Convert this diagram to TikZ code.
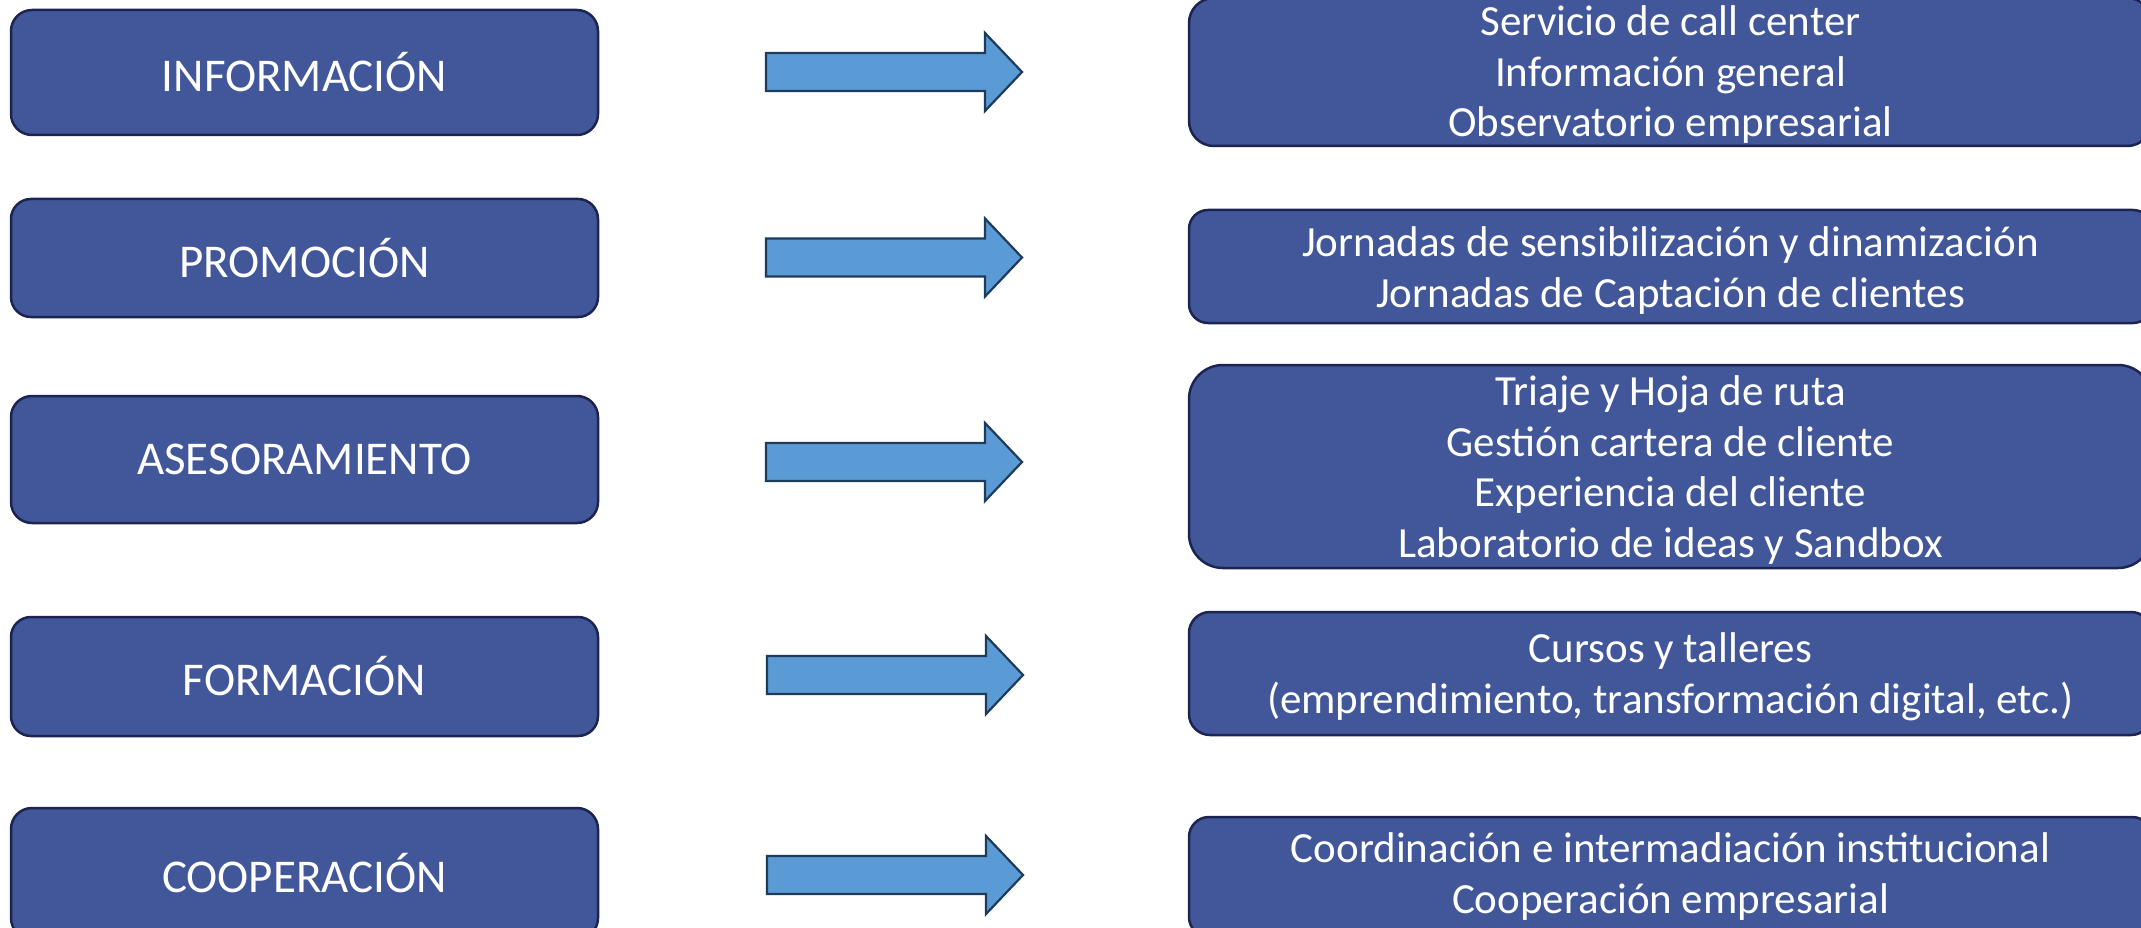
\documentclass[tikz,border=0pt]{standalone}
\usepackage{fontspec}
\setmainfont{Carlito}
\definecolor{boxfill}{HTML}{42569A}
\definecolor{boxline}{HTML}{1C2552}
\definecolor{arrfill}{HTML}{5B9BD5}
\definecolor{arrline}{HTML}{1E3B5C}
\tikzset{
  lbox/.style={draw=boxline, fill=boxfill, line width=2.5pt, inner sep=0pt,
    minimum width=587pt, text=white, align=center,
    font=\fontsize{47}{56}\selectfont},
  rbox/.style={draw=boxline, fill=boxfill, line width=2.5pt, inner sep=0pt,
    minimum width=963pt},
  rtext/.style={inner sep=0pt, text=white, align=center, anchor=base,
    font=\fontsize{43}{50.5}\selectfont},
  blockarrow/.style={draw=arrline, fill=arrfill, line width=2.2pt, line join=miter}
}
\newcommand{\blkarrow}[1]{%
  \draw[blockarrow] (#1) ++(0,-19) -- ++(219,0) -- ++(0,-20) -- ++(37,39)
    -- ++(-37,39) -- ++(0,-20) -- ++(-219,0) -- cycle;}
\begin{document}
\begin{tikzpicture}[x=1pt,y=-1pt]
\useasboundingbox (0,0) rectangle (2141,928);
\clip (0,0) rectangle (2141,928);
\fill[white] (0,0) rectangle (2141,928);
% left boxes
\node[lbox, minimum height=125pt, rounded corners=21pt] (infoL) at (304.5,72.5) {INFORMACIÓN};
\node[lbox, minimum height=118pt, rounded corners=20pt] (promoL) at (304.5,258) {PROMOCIÓN};
\node[lbox, minimum height=127pt, rounded corners=21pt] (asesL) at (304.5,459.5) {ASESORAMIENTO};
\node[lbox, minimum height=119pt, rounded corners=20pt] (formL) at (304.5,676.5) {FORMACIÓN};
\node[lbox, minimum height=131pt, rounded corners=21pt] (coopL) at (304.5,873.5) {COOPERACIÓN};
% right boxes
\node[rbox, minimum height=148pt, rounded corners=25pt] (infoR) at (1670.5,72) {};
\node[rbox, minimum height=113pt, rounded corners=19pt] (promoR) at (1670.5,266.5) {};
\node[rbox, minimum height=203pt, rounded corners=34pt] (asesR) at (1670.5,466.5) {};
\node[rbox, minimum height=123pt, rounded corners=21pt] (formR) at (1670.5,673.5) {};
\node[rbox, minimum height=120pt, rounded corners=20pt] (coopR) at (1670.5,877) {};
% right texts (anchored at last baseline)
\node[rtext] (infoRt) at (1670.5,137)
  {Servicio de call center\\Información general\\Observatorio empresarial};
\node[rtext] (promoRt) at (1670.5,307)
  {Jornadas de sensibilización y dinamización\\Jornadas de Captación de clientes};
\node[rtext] (asesRt) at (1670.5,557)
  {Triaje y Hoja de ruta\\Gestión cartera de cliente\\Experiencia del cliente\\Laboratorio de ideas y Sandbox};
\node[rtext] (formRt) at (1670.5,713)
  {Cursos y talleres\\(emprendimiento, transformación digital, etc.)};
\node[rtext] (coopRt) at (1670.5,913)
  {Coordinación e intermadiación institucional\\Cooperación empresarial};
% arrows
\coordinate (a1) at (766,72);
\coordinate (a2) at (766,257.5);
\coordinate (a3) at (766,462);
\coordinate (a4) at (767,675);
\coordinate (a5) at (767,875);
\blkarrow{a1}
\blkarrow{a2}
\blkarrow{a3}
\blkarrow{a4}
\blkarrow{a5}
\end{tikzpicture}
\end{document}
